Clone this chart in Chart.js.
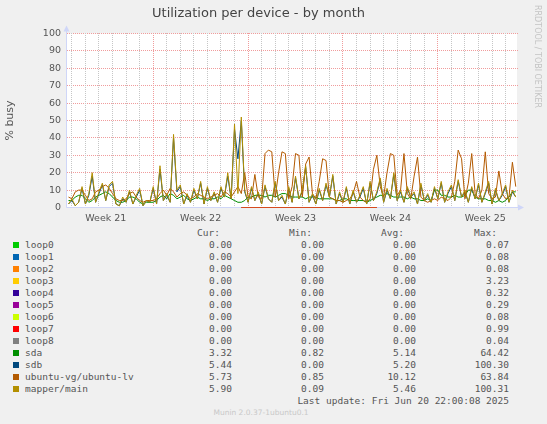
<!DOCTYPE html>
<html>
<head>
<meta charset="utf-8">
<title>Utilization per device - by month</title>
<script src="https://cdn.jsdelivr.net/npm/chart.js@4.4.1/dist/chart.umd.min.js"></script>
<style>
    html, body { margin: 0; padding: 0; background: #f0f0f0; }
    #wrap { position: relative; width: 547px; height: 424px; overflow: hidden; color: #555; }
    #chartBox { position: absolute; left: 0; top: 0; width: 547px; height: 226px; }
    #rrdtool { position: absolute; left: 533px; top: 5px; writing-mode: vertical-rl; font: 8px "DejaVu Sans"; color: #c4c4c4; }
    #legend { position: absolute; left: 0; top: 227px; width: 547px; font: 9.5px "DejaVu Sans Mono"; }
    .row { position: relative; height: 12px; line-height: 12px; white-space: pre; }
    .row span { position: absolute; top: 0; }
    .swatch { left: 13px; top: 3px !important; width: 6px; height: 6px; }
    .name { left: 25px; }
    #version { position: absolute; left: 0; top: 408px; width: 522px; text-align: center; font: 7.5px "DejaVu Sans"; color: #c8c8c8; }
</style>
</head>
<body>
<div id="wrap">
    <div id="chartBox"><canvas id="busyChart"></canvas></div>
    <div id="rrdtool">RRDTOOL / TOBI OETIKER</div>
    <div id="legend"></div>
    <div id="version">Munin 2.0.37-1ubuntu0.1</div>
</div>
<script>
// series, in munin drawing order (last one on top)
const seriesNames = ['loop0', 'loop1', 'loop2', 'loop3', 'loop4', 'loop5', 'loop6', 'loop7', 'loop8',
    'sda', 'sdb', 'ubuntu-vg/ubuntu-lv', 'mapper/main'];
const seriesColors = ['#00CC00', '#0066B3', '#FF8000', '#FFCC00', '#330099', '#990099', '#CCFF00', '#FF0000', '#808080',
    '#008F00', '#00487D', '#B35A00', '#B38F00'];

// legend table
const curValues = ['0.00', '0.00', '0.00', '0.00', '0.00', '0.00', '0.00', '0.00', '0.00', '3.32', '5.44', '5.73', '5.90'];
const minValues = ['0.00', '0.00', '0.00', '0.00', '0.00', '0.00', '0.00', '0.00', '0.00', '0.82', '0.00', '0.85', '0.09'];
const avgValues = ['0.00', '0.00', '0.00', '0.00', '0.00', '0.00', '0.00', '0.00', '0.00', '5.14', '5.20', '10.12', '5.46'];
const maxValues = ['0.07', '0.08', '0.08', '3.23', '0.32', '0.29', '0.08', '0.99', '0.04', '64.42', '100.30', '63.84', '100.31'];
const lastUpdate = 'Last update: Fri Jun 20 22:00:08 2025';

// x axis: days since Mon May 19 00:00
const weekLabels = ['Week 21', 'Week 22', 'Week 23', 'Week 24', 'Week 25'];
const weekCenters = [3.5, 10.5, 17.5, 24.5, 31.5];
const yTicks = [0, 10, 20, 30, 40, 50, 60, 70, 80, 90, 100];

// samples every 6 hours starting May 19 18:00
const sampleStart = 0.75;
const sampleStep = 0.25;

const sdaBusy = [
    4, 4, 6, 7, 7, 5, 3, 4, 6, 7, 8, 9,
    8, 6, 4, 3, 3, 4, 6, 6, 5, 3, 2, 3,
    3, 3, 4, 6, 7, 5, 8, 7, 5, 6, 7, 5,
    4, 5, 6, 5, 5, 4, 5, 5, 6, 5, 7, 6,
    5, 4, 3, 3, 4, 6, 6, 7, 7, 7, 6, 7,
    7, 6, 7, 8, 8, 7, 6, 6, 6, 6, 5, 6,
    6, 6, 5, 5, 5, 5, 5, 4, 4, 5, 5, 4,
    4, 4, 4, 4, 3, 4, 5, 6, 7, 7, 8, 7,
    6, 6, 6, 6, 5, 6, 5, 5, 4, 4, 5, 4,
    10, 10, 7, 7, 6, 6, 7, 6, 6, 7, 10, 10,
    6, 5, 5, 5, 4, 4, 3, 4, 3, 4, 6, 9, 9
];
const sdbBusy = [
    2, 4, 1, 3, 11, 2, 7, 18, 3, 8, 13, 4,
    12, 14, 2, 1, 5, 3, 9, 2, 6, 10, 1, 4,
    3, 11, 2, 22, 4, 7, 3, 40, 9, 12, 2, 7,
    3, 10, 5, 14, 2, 11, 4, 8, 3, 11, 6, 18,
    5, 45, 28, 50, 9, 3, 11, 4, 8, 2, 12, 5,
    3, 14, 4, 6, 2, 11, 3, 17, 5, 9, 23, 3,
    7, 2, 10, 4, 13, 6, 18, 2, 8, 3, 11, 2,
    9, 3, 6, 11, 2, 14, 4, 8, 16, 3, 10, 5,
    19, 4, 9, 3, 11, 6, 8, 2, 13, 4, 7, 3,
    11, 5, 14, 3, 8, 12, 4, 15, 6, 9, 3, 11,
    5, 13, 3, 8, 14, 2, 10, 4, 7, 12, 3, 9, 6
];
const lvBusy = [
    6, 5, 9, 10, 10, 7, 4, 5, 9, 10, 12, 13,
    11, 8, 5, 4, 4, 5, 8, 9, 6, 4, 3, 4,
    4, 4, 5, 8, 10, 7, 11, 9, 6, 8, 9, 7,
    5, 6, 8, 7, 6, 5, 6, 7, 8, 6, 9, 8,
    6, 9, 12, 8, 20, 6, 5, 19, 6, 5, 31, 33,
    32, 6, 20, 32, 31, 5, 12, 31, 30, 6, 25, 29,
    8, 5, 15, 28, 27, 6, 5, 4, 4, 3, 4, 5,
    8, 15, 6, 4, 3, 5, 22, 30, 12, 6, 20, 31,
    30, 7, 10, 31, 8, 5, 18, 29, 6, 4, 3, 4,
    5, 4, 6, 5, 4, 6, 15, 33, 28, 5, 14, 31,
    8, 5, 10, 32, 8, 5, 6, 21, 8, 5, 6, 26, 12
];
const mainBusy = [
    2, 5, 1, 3, 12, 2, 8, 20, 3, 9, 14, 4,
    13, 15, 2, 1, 6, 3, 10, 2, 7, 11, 1, 4,
    3, 12, 2, 24, 4, 8, 3, 42, 10, 13, 2, 8,
    3, 11, 5, 15, 2, 12, 4, 9, 3, 12, 6, 20,
    5, 48, 8, 52, 10, 3, 12, 4, 9, 2, 13, 5,
    3, 15, 4, 7, 2, 12, 3, 18, 5, 10, 24, 3,
    8, 2, 11, 4, 14, 6, 19, 2, 9, 3, 12, 2,
    10, 3, 7, 12, 2, 15, 4, 9, 17, 3, 11, 5,
    20, 4, 10, 3, 12, 6, 9, 2, 14, 4, 8, 3,
    12, 5, 15, 3, 9, 13, 4, 16, 6, 10, 3, 12,
    5, 14, 3, 9, 15, 2, 11, 4, 8, 13, 3, 10, 6
];

// loop devices only report for part of the month, one value a day
const loopDays = [13.5, 14.5, 15.5, 16.5, 17.5, 18.5, 19.5, 20.5, 21.5, 22.5, 23.5];
const loop0 = [0, 0, 0, 0, 0, 0, 0, 0, 0, 0, 0];
const loop1 = [0, 0, 0, 0, 0, 0, 0, 0, 0, 0, 0];
const loop2 = [0, 0, 0, 0, 0, 0, 0, 0, 0, 0, 0];
const loop3 = [0, 0, 0, 0, 0, 0, 0, 0, 0, 0, 0];
const loop4 = [0, 0, 0, 0, 0, 0, 0, 0, 0, 0, 0];
const loop5 = [0, 0, 0, 0, 0, 0, 0, 0, 0, 0, 0];
const loop6 = [0, 0, 0, 0, 0, 0, 0, 0, 0, 0, 0];
const loop7 = [0, 0, 0, 0, 0, 0, 0, 0, 0, 0, 0];
const loop8 = [null, null, null, null, null, null, null, null, null, null, null];

const FONT = 'DejaVu Sans';
const AXIS_COLOR = '#CFD6F8';
const GRID_MINOR = '#C6C6C6';
const GRID_MAJOR = '#F09C9C';

function sampled(values) {
    return values.map((v, i) => ({ x: sampleStart + i * sampleStep, y: v }));
}
function daily(values) {
    return values.map((v, i) => ({ x: loopDays[i], y: v }));
}

const seriesData = [loop0, loop1, loop2, loop3, loop4, loop5, loop6, loop7, loop8].map(daily)
    .concat([sdaBusy, sdbBusy, lvBusy, mainBusy].map(sampled));

// legend below the graph
const legend = document.getElementById('legend');
function addRow(cells) {
    const row = document.createElement('div');
    row.className = 'row';
    cells.forEach(function (c) {
        const s = document.createElement('span');
        if (c.cls) s.className = c.cls;
        if (c.right !== undefined) s.style.right = c.right + 'px';
        if (c.color) s.style.background = c.color;
        if (c.text) s.textContent = c.text;
        row.appendChild(s);
    });
    legend.appendChild(row);
}
addRow([{ text: 'Cur:', right: 327 }, { text: 'Min:', right: 235 }, { text: 'Avg:', right: 143 }, { text: 'Max:', right: 50 }]);
seriesNames.forEach(function (name, i) {
    addRow([
        { cls: 'swatch', color: seriesColors[i] },
        { cls: 'name', text: name },
        { text: curValues[i], right: 315 },
        { text: minValues[i], right: 223 },
        { text: avgValues[i], right: 131 },
        { text: maxValues[i], right: 38 }
    ]);
});
addRow([{ text: lastUpdate, right: 38 }]);

const halfDays = [];
for (let d = 1; d <= 33.5; d += 0.5) halfDays.push(d);

// rrdtool look: white canvas, dotted grid, lavender axes with arrows
const rrdFrame = {
    id: 'rrdFrame',
    beforeDraw(chart) {
        const { ctx, chartArea: a } = chart;
        ctx.save();
        ctx.fillStyle = '#ffffff';
        ctx.fillRect(a.left, a.top, a.right - a.left, a.bottom - a.top);
        ctx.restore();
    },
    beforeDatasetsDraw(chart) {
        const { ctx, chartArea: a } = chart;
        const xs = chart.scales.x, ys = chart.scales.y;
        const left = Math.round(a.left), right = Math.floor(a.right);
        const top = Math.floor(a.top), bottom = Math.floor(a.bottom);
        ctx.save();
        // horizontal dotted lines
        ys.ticks.forEach(function (t) {
            if (t.value === 0) return;
            const py = Math.floor(ys.getPixelForValue(t.value));
            ctx.fillStyle = t.value % 10 === 0 ? GRID_MAJOR : GRID_MINOR;
            for (let px = left; px <= right; px += 2) ctx.fillRect(px, py, 1, 1);
        });
        // vertical dotted lines, one a day, red on week starts
        halfDays.forEach(function (d) {
            if (!Number.isInteger(d)) return;
            const px = Math.floor(xs.getPixelForValue(d));
            ctx.fillStyle = d % 7 === 0 ? GRID_MAJOR : GRID_MINOR;
            for (let py = top; py < bottom; py += 2) ctx.fillRect(px, py, 1, 1);
        });
        // axes
        const x0 = left - 0.5;
        const y0 = bottom + 0.5;
        ctx.strokeStyle = AXIS_COLOR;
        ctx.fillStyle = AXIS_COLOR;
        ctx.lineWidth = 1;
        ctx.beginPath();
        ctx.moveTo(x0, y0);
        ctx.lineTo(x0, a.top - 4);
        ctx.moveTo(x0, y0);
        ctx.lineTo(a.right + 4, y0);
        ctx.stroke();
        ctx.beginPath();
        ctx.moveTo(x0 - 3, a.top - 2);
        ctx.lineTo(x0 + 3, a.top - 2);
        ctx.lineTo(x0, a.top - 8);
        ctx.closePath();
        ctx.fill();
        ctx.beginPath();
        ctx.moveTo(a.right + 1, y0 - 3);
        ctx.lineTo(a.right + 1, y0 + 3);
        ctx.lineTo(a.right + 7, y0);
        ctx.closePath();
        ctx.fill();
        ctx.restore();
    }
};

new Chart(document.getElementById('busyChart'), {
    type: 'line',
    data: {
        datasets: seriesNames.map((name, i) => ({
            label: name,
            data: seriesData[i],
            borderColor: seriesColors[i],
            backgroundColor: seriesColors[i],
            borderWidth: 1,
            pointRadius: 0,
            tension: 0,
            order: seriesNames.length - 1 - i
        }))
    },
    options: {
        responsive: true,
        maintainAspectRatio: false,
        animation: false,
        events: [],
        layout: { padding: { left: 0, right: 30, top: 0, bottom: 0.5 } },
        plugins: {
            legend: { display: false },
            tooltip: { enabled: false },
            title: {
                display: true,
                text: 'Utilization per device - by month',
                color: '#444',
                font: { family: FONT, size: 13, weight: 'normal' },
                padding: { top: 6, bottom: 11.9 }
            }
        },
        scales: {
            x: {
                type: 'linear',
                min: 0.64,
                max: 33.84,
                afterBuildTicks: function (scale) {
                    scale.ticks = halfDays.map(v => ({ value: v }));
                },
                afterFit: function (scale) { scale.height = 18; },
                ticks: {
                    autoSkip: false,
                    maxRotation: 0,
                    padding: 5,
                    color: '#555',
                    font: { family: FONT, size: 9.5 },
                    callback: function (value) {
                        const k = weekCenters.indexOf(value);
                        return k >= 0 ? weekLabels[k] : '';
                    }
                },
                grid: { display: false, drawTicks: false },
                border: { display: false }
            },
            y: {
                min: 0,
                max: 100,
                afterFit: function (scale) { scale.width = 67; },
                ticks: {
                    stepSize: 5,
                    padding: 6,
                    color: '#555',
                    font: { family: FONT, size: 9.5 },
                    callback: function (value) {
                        return yTicks.indexOf(value) >= 0 ? value : '';
                    }
                },
                grid: { display: false, drawTicks: false },
                border: { display: false },
                title: {
                    display: true,
                    text: '% busy',
                    color: '#555',
                    font: { family: FONT, size: 11 },
                    padding: { top: 4, bottom: 0 }
                }
            }
        }
    },
    plugins: [rrdFrame]
});
</script>
</body>
</html>
